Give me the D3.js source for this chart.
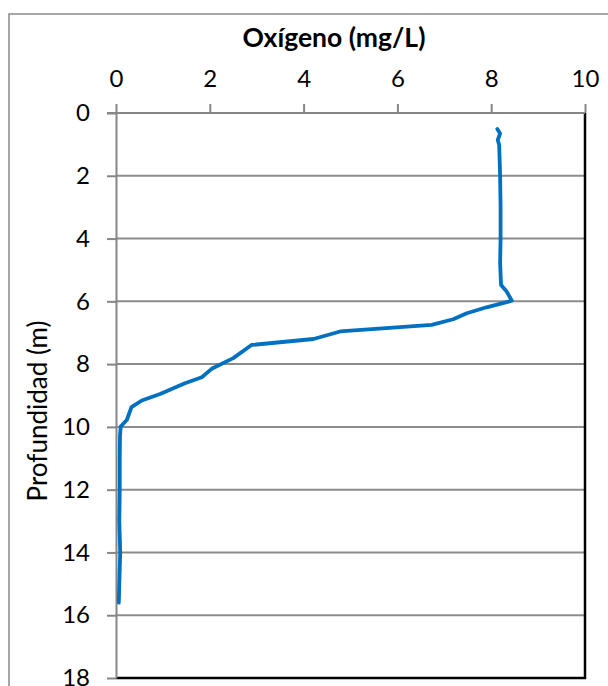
<!DOCTYPE html>
<html>
<head>
<meta charset="utf-8">
<script src="https://cdn.jsdelivr.net/npm/d3@7"></script>
<style>
  body { margin: 0; background: #fff; }
  svg { display: block; }
  text { font-family: Lato, "Open Sans", sans-serif; fill: #000; }
</style>
</head>
<body>
<script>
// oxygen profile
var depth = [0.51, 0.65, 0.86, 1.02, 2, 3, 4, 4.78, 5.48, 5.69, 5.98, 6.19, 6.38, 6.57, 6.75,
  6.96, 7.2, 7.39, 7.81, 8.15, 8.42, 8.61, 8.95, 9.16, 9.37, 9.78, 9.99, 10.3, 11, 12, 13, 14, 15, 15.6];
var oxygen = [8.13, 8.19, 8.14, 8.17, 8.19, 8.2, 8.2, 8.19, 8.21, 8.33, 8.44, 7.9, 7.48, 7.19, 6.73,
  4.78, 4.21, 2.89, 2.5, 2.04, 1.83, 1.47, 0.94, 0.55, 0.33, 0.23, 0.10, 0.085, 0.08, 0.08, 0.07, 0.09, 0.07, 0.06];
var xTicks = [0, 2, 4, 6, 8, 10];
var yTicks = [0, 2, 4, 6, 8, 10, 12, 14, 16, 18];

var svg = d3.select('body').append('svg')
  .attr('width', 608)
  .attr('height', 686);

// outer chart frame
svg.append('rect')
  .attr('x', 9).attr('y', 14)
  .attr('width', 620).attr('height', 700)
  .attr('fill', 'none')
  .attr('stroke', '#8a8a8a')
  .attr('stroke-width', 1.5);

var x = d3.scaleLinear().domain([0, 10]).range([116, 585]);
var y = d3.scaleLinear().domain([0, 18]).range([113, 678]);

// gridlines
svg.selectAll('line.grid')
  .data(yTicks.filter(function (d) { return d > 0 && d < 18; }))
  .enter()
  .append('line')
  .attr('class', 'grid')
  .attr('x1', x(0)).attr('x2', x(10))
  .attr('y1', function (d) { return y(d); })
  .attr('y2', function (d) { return y(d); })
  .attr('stroke', '#8c8c8c')
  .attr('stroke-width', 2);

// right and bottom borders (black)
svg.append('path')
  .attr('d', 'M' + x(10) + ',' + y(0) + 'V' + y(18) + 'H' + x(0))
  .attr('fill', 'none')
  .attr('stroke', '#000')
  .attr('stroke-width', 2.5);

var xAxis = svg.append('g')
  .attr('transform', 'translate(0,' + y(0) + ')')
  .call(d3.axisTop(x).tickValues(xTicks).tickSize(9).tickPadding(17).tickSizeOuter(0));

var yAxis = svg.append('g')
  .attr('transform', 'translate(' + x(0) + ',0)')
  .call(d3.axisLeft(y).tickValues(yTicks).tickSize(9).tickPadding(17).tickSizeOuter(0));

[xAxis, yAxis].forEach(function (g) {
  g.select('.domain').attr('stroke', '#868686').attr('stroke-width', 2);
  g.selectAll('.tick line').attr('stroke', '#868686').attr('stroke-width', 2);
  g.selectAll('.tick text')
    .style('font-family', 'Lato, "Open Sans", sans-serif')
    .style('font-size', '24px')
    .attr('fill', '#000');
});
// let the top axis line poke out past the left axis like the original
xAxis.select('.domain').attr('d', 'M' + (x(0) - 9) + ',0H' + x(10));

// oxygen line
var pts = depth.map(function (d, i) { return [oxygen[i], d]; });
var line = d3.line()
  .x(function (d) { return x(d[0]); })
  .y(function (d) { return y(d[1]); });

svg.append('path')
  .datum(pts)
  .attr('d', line)
  .attr('fill', 'none')
  .attr('stroke', '#0070c0')
  .attr('stroke-width', 3.8)
  .attr('stroke-linejoin', 'round')
  .attr('stroke-linecap', 'round');

// titles
svg.append('text')
  .attr('x', 334).attr('y', 47)
  .attr('text-anchor', 'middle')
  .style('font-size', '26.5px')
  .style('font-weight', 'bold')
  .text('Oxígeno (mg/L)');

svg.append('text')
  .attr('transform', 'translate(47,411) rotate(-90)')
  .attr('text-anchor', 'middle')
  .style('font-size', '26px')
  .text('Profundidad (m)');
</script>
</body>
</html>
